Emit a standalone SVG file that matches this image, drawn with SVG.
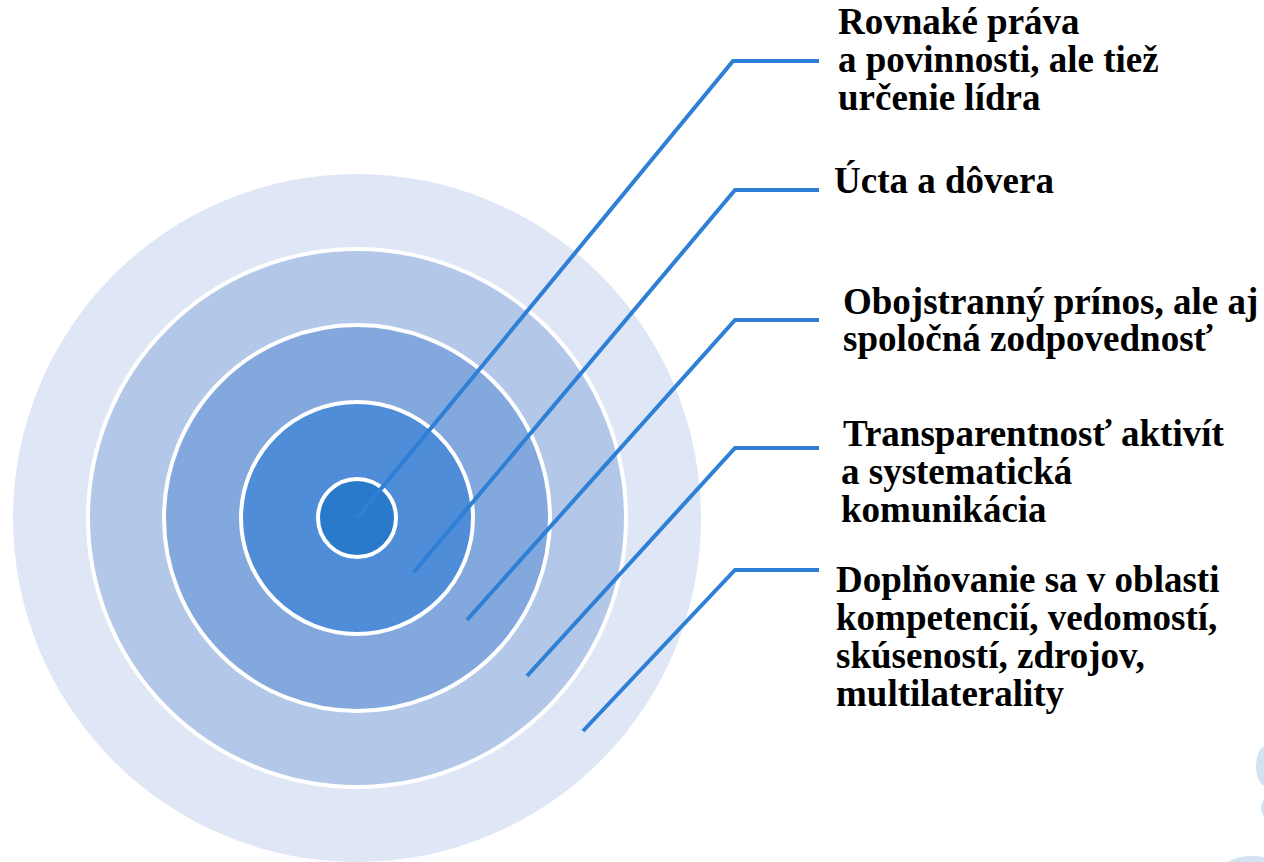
<svg xmlns="http://www.w3.org/2000/svg" width="1264" height="862" viewBox="0 0 1264 862">
<style>
.ring{stroke:#ffffff;stroke-width:4}
.conn{fill:none;stroke:#2E7FD6;stroke-width:4}
.lbl{font-family:'Liberation Serif','Times New Roman',serif;font-weight:700;font-size:37px;fill:#000}
.deco{fill:#D3E2F0}
</style>
<rect width="1264" height="862" fill="#ffffff"/>
<g id="deco">
<ellipse class="deco" cx="1266" cy="766" rx="10" ry="20"/>
<ellipse class="deco" cx="1266" cy="808" rx="5" ry="9"/>
<ellipse class="deco" cx="1252" cy="866" rx="26" ry="10"/>
</g>
<g id="ring5"><circle cx="357" cy="518" r="344" fill="#DFE6F5"/></g>
<g id="ring4"><circle class="ring" cx="357" cy="518" r="269" fill="#B3C7E8"/></g>
<g id="ring3"><circle class="ring" cx="357" cy="518" r="193" fill="#82A8DE"/></g>
<g id="ring2"><circle class="ring" cx="357" cy="518" r="116" fill="#4F8DD8"/></g>
<g id="ring1"><circle class="ring" cx="357" cy="518" r="39" fill="#2A7ACC"/></g>
<g id="connectors">
<polyline class="conn" points="819,61 733,61 357,518"/>
<polyline class="conn" points="819,190 735,190 414,572"/>
<polyline class="conn" points="819,320 735,320 467,620"/>
<polyline class="conn" points="819,448 735,448 527,676"/>
<polyline class="conn" points="819,570 735,570 583,731"/>
</g>
<g id="label1">
<text class="lbl" x="838" y="34">Rovnaké práva</text>
<text class="lbl" x="838" y="72">a povinnosti, ale tiež</text>
<text class="lbl" x="838" y="110">určenie lídra</text>
</g>
<g id="label2">
<text class="lbl" x="834" y="193">Úcta a dôvera</text>
</g>
<g id="label3">
<text class="lbl" x="843" y="314">Obojstranný prínos, ale aj</text>
<text class="lbl" x="843" y="351">spoločná zodpovednosť</text>
</g>
<g id="label4">
<text class="lbl" x="843" y="446">Transparentnosť aktivít</text>
<text class="lbl" x="841" y="484">a systematická</text>
<text class="lbl" x="841" y="522">komunikácia</text>
</g>
<g id="label5">
<text class="lbl" x="836" y="592">Doplňovanie sa v oblasti</text>
<text class="lbl" x="836" y="630">kompetencií, vedomostí,</text>
<text class="lbl" x="836" y="668">skúseností, zdrojov,</text>
<text class="lbl" x="836" y="706">multilaterality</text>
</g>
</svg>
